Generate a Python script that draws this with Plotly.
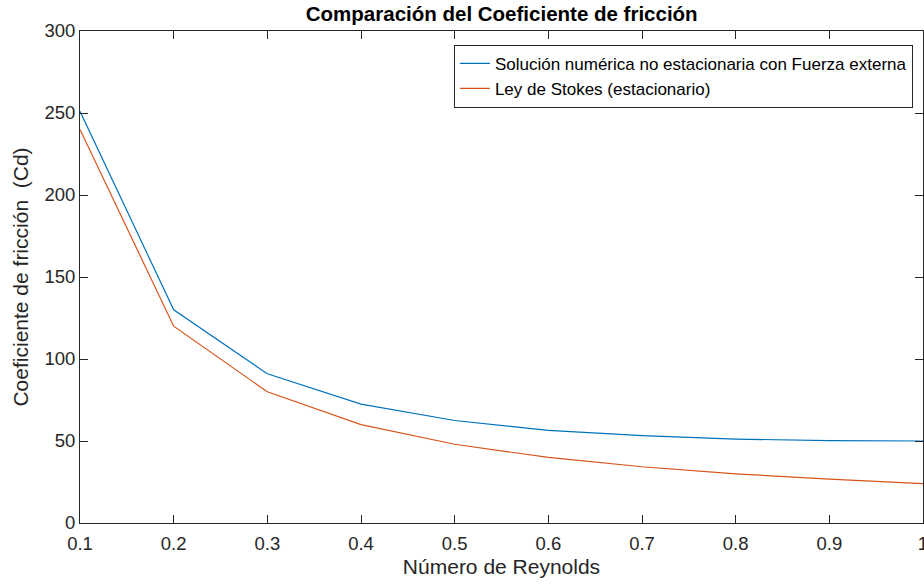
import plotly.graph_objects as go

# Reynolds numbers and drag coefficients
reynolds = [0.1, 0.2, 0.3, 0.4, 0.5, 0.6, 0.7, 0.8, 0.9, 1.0]
cd_numerica = [251, 130, 91, 72.5, 62.5, 56.5, 53.3, 51.2, 50.2, 50.0]
cd_stokes = [240, 120, 80, 60, 48, 40, 34.3, 30, 26.7, 24]

x_ticks = [0.1, 0.2, 0.3, 0.4, 0.5, 0.6, 0.7, 0.8, 0.9, 1.0]
x_ticktext = ["0.1", "0.2", "0.3", "0.4", "0.5", "0.6", "0.7", "0.8", "0.9", "1"]
y_ticks = [0, 50, 100, 150, 200, 250, 300]

FONT = "Liberation Sans, Arial, Helvetica, sans-serif"
AXIS_COLOR = "#262626"

fig = go.Figure()
fig.add_trace(go.Scatter(
    x=reynolds, y=cd_numerica, mode="lines",
    name="Solución numérica no estacionaria con Fuerza externa",
    line=dict(color="#0072BD", width=1.2),
))
fig.add_trace(go.Scatter(
    x=reynolds, y=cd_stokes, mode="lines",
    name="Ley de Stokes (estacionario)",
    line=dict(color="#D95319", width=1.2),
))

axis_common = dict(
    showgrid=False, zeroline=False, automargin=False,
    showline=True, linecolor=AXIS_COLOR, linewidth=1, mirror="allticks",
    ticks="inside", ticklen=8, tickwidth=1, tickcolor=AXIS_COLOR,
    tickfont=dict(family=FONT, size=18.5, color=AXIS_COLOR),
    ticklabeloverflow="allow",
)

fig.update_layout(
    width=924, height=586,
    margin=dict(l=80, r=1, t=31, b=63),
    paper_bgcolor="white", plot_bgcolor="white",
    title=dict(
        text="<b>Comparación del Coeficiente de fricción</b>",
        x=0.543, xanchor="center", y=0.976, yanchor="middle",
        font=dict(family=FONT, size=20.5, color="black"),
    ),
    xaxis=dict(
        range=[0.1, 1.0], tickvals=x_ticks, ticktext=x_ticktext,
        ticklabelstandoff=4,
        title=dict(text="Número de Reynolds", standoff=6,
                   font=dict(family=FONT, size=21, color=AXIS_COLOR)),
        **axis_common,
    ),
    yaxis=dict(
        range=[0, 300], tickvals=y_ticks,
        title=dict(text="Coeficiente de fricción  (Cd)", standoff=10,
                   font=dict(family=FONT, size=21, color=AXIS_COLOR)),
        **axis_common,
    ),
    legend=dict(
        x=0.988, xanchor="right", y=0.972, yanchor="top",
        bgcolor="white", bordercolor="#262626", borderwidth=1,
        font=dict(family=FONT, size=17, color="black"),
        tracegroupgap=0, itemwidth=30,
    ),
    showlegend=True,
)

fig.write_html("out.html")
